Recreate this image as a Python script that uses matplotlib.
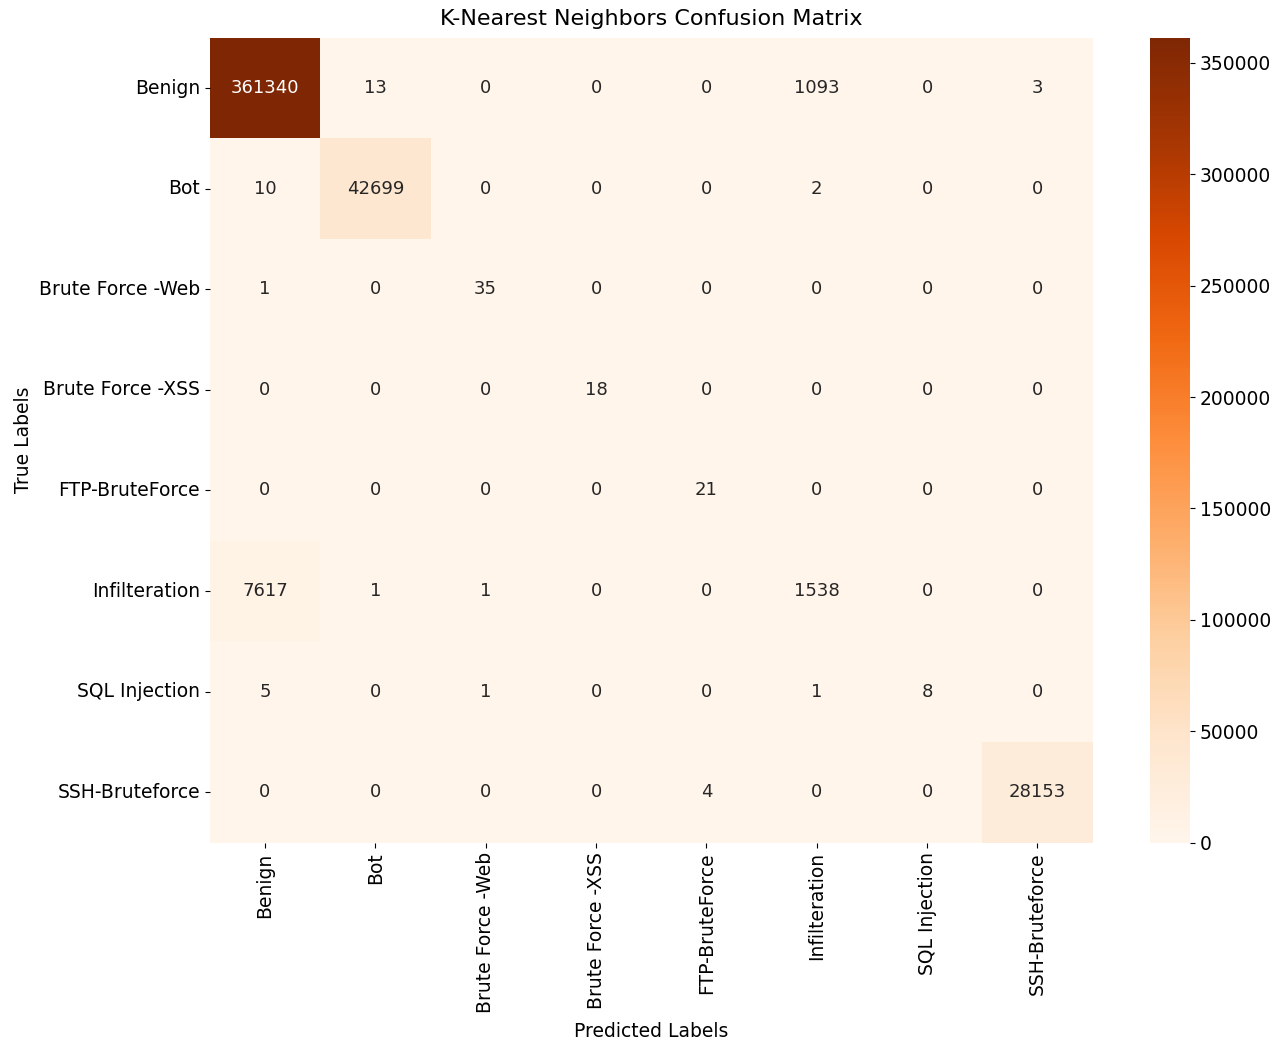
import matplotlib
matplotlib.use("Agg")
import matplotlib.pyplot as plt
import numpy as np
import seaborn as sns

labels = ["Benign", "Bot", "Brute Force -Web", "Brute Force -XSS",
          "FTP-BruteForce", "Infilteration", "SQL Injection", "SSH-Bruteforce"]

row_benign = [361340, 13, 0, 0, 0, 1093, 0, 3]
row_bot = [10, 42699, 0, 0, 0, 2, 0, 0]
row_web = [1, 0, 35, 0, 0, 0, 0, 0]
row_xss = [0, 0, 0, 18, 0, 0, 0, 0]
row_ftp = [0, 0, 0, 0, 21, 0, 0, 0]
row_infil = [7617, 1, 1, 0, 0, 1538, 0, 0]
row_sql = [5, 0, 1, 0, 0, 1, 8, 0]
row_ssh = [0, 0, 0, 0, 4, 0, 0, 28153]

cm = np.array([row_benign, row_bot, row_web, row_xss,
               row_ftp, row_infil, row_sql, row_ssh])

fig = plt.figure(figsize=(12.87, 10.48), dpi=100)
ax = fig.add_axes([0.163, 0.196, 0.686, 0.768])
cax = fig.add_axes([0.8936, 0.196, 0.031, 0.768])

sns.heatmap(cm, annot=True, fmt="d", cmap="Oranges",
            xticklabels=labels, yticklabels=labels,
            ax=ax, cbar_ax=cax, annot_kws={"fontsize": 13})

ax.set_title("K-Nearest Neighbors Confusion Matrix", fontsize=16, pad=9)
ax.set_xlabel("Predicted Labels", fontsize=13.5, labelpad=6)
ax.set_ylabel("True Labels", fontsize=13.5)
ax.tick_params(axis="both", labelsize=13.5)
plt.setp(ax.get_xticklabels(), rotation=90)
plt.setp(ax.get_yticklabels(), rotation=0)
cax.tick_params(labelsize=13.5)

fig.savefig("out.png", dpi=100)
